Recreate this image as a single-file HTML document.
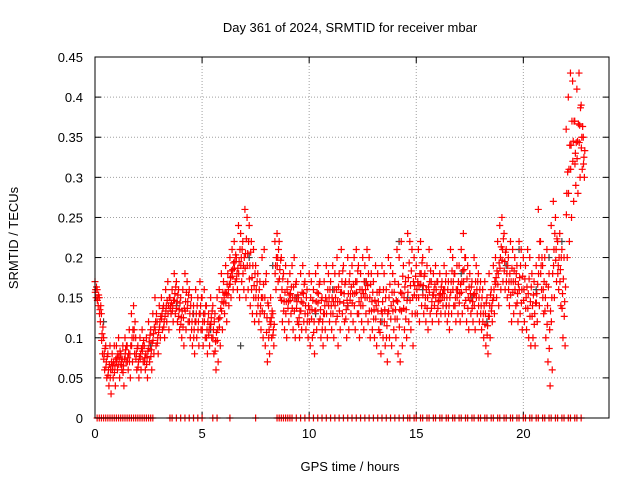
<!DOCTYPE html>
<html><head><meta charset="utf-8"><style>
body{margin:0;background:#fff}
svg{display:block;font-family:"Liberation Sans",sans-serif;font-size:13px}
</style></head><body>
<svg id="chart" width="640" height="480">
<text x="350" y="32" text-anchor="middle">Day 361 of 2024, SRMTID for receiver mbar</text>
<text x="350" y="471" text-anchor="middle">GPS time / hours</text>
<text transform="translate(18,238) rotate(-90)" text-anchor="middle">SRMTID / TECUs</text>
<g id="grid"></g>
<g id="ticks"></g>
<g id="marks"></g>
<rect x="95" y="57" width="514" height="361" fill="none" stroke="#000"/>
</svg>
<script>
const xTicks=[0,5,10,15,20];
const yTicks=[0,0.05,0.1,0.15,0.2,0.25,0.3,0.35,0.4,0.45];
const yTickLabels=["0","0.05","0.1","0.15","0.2","0.25","0.3","0.35","0.4","0.45"];
const hiVals=[.17,.16,.15,.13,.10,.09,.08,.09,.08,.09,
.09,.10,.08,.09,.10,.09,.11,.13,.14,.10,
.09,.10,.11,.09,.10,.12,.11,.13,.15,.12,
.14,.15,.14,.16,.17,.15,.16,.18,.17,.16,
.15,.16,.18,.17,.16,.15,.14,.16,.15,.17,
.15,.16,.14,.13,.15,.14,.13,.15,.16,.18,
.17,.19,.18,.20,.21,.22,.20,.24,.23,.22,
.26,.25,.24,.22,.21,.19,.18,.17,.20,.21,
.18,.14,.15,.13,.22,.23,.22,.20,.18,.19,
.17,.18,.19,.20,.17,.15,.18,.19,.17,.16,
.18,.17,.16,.18,.19,.17,.15,.17,.19,.18,
.17,.19,.18,.20,.18,.21,.19,.17,.20,.18,
.19,.20,.21,.19,.18,.20,.19,.21,.20,.18,
.17,.19,.18,.16,.19,.18,.16,.20,.19,.18,
.17,.21,.20,.22,.19,.17,.23,.22,.21,.20,
.19,.21,.22,.20,.18,.19,.21,.17,.18,.19,
.17,.18,.17,.19,.18,.17,.21,.20,.18,.19,
.19,.21,.23,.20,.19,.18,.17,.20,.19,.18,
.17,.16,.17,.15,.18,.16,.19,.20,.22,.24,
.25,.23,.21,.20,.22,.21,.20,.19,.22,.21,
.20,.19,.21,.20,.18,.17,.19,.26,.22,.19,
.20,.21,.18,.24,.27,.25,.22,.23,.21,.20,
.36,.40,.43,.42,.37,.41,.43,.39,.35];
const loVals=[.15,.14,.12,.08,.06,.05,.04,.03,.05,.04,
.06,.05,.06,.04,.07,.06,.05,.07,.08,.06,
.05,.06,.07,.06,.05,.07,.06,.08,.09,.08,
.10,.11,.10,.12,.11,.13,.12,.13,.12,.11,
.10,.09,.11,.12,.10,.09,.08,.10,.09,.11,
.09,.10,.08,.09,.10,.08,.06,.07,.09,.11,
.13,.12,.14,.15,.16,.17,.16,.15,.17,.16,
.15,.16,.14,.13,.12,.13,.12,.11,.10,.09,
.07,.08,.10,.09,.16,.17,.15,.12,.11,.10,
.12,.13,.11,.10,.12,.10,.11,.12,.11,.10,
.09,.10,.08,.11,.12,.10,.09,.11,.10,.12,
.11,.10,.12,.09,.11,.13,.12,.10,.11,.13,
.12,.11,.13,.10,.12,.11,.13,.12,.10,.11,
.10,.09,.11,.08,.10,.09,.07,.10,.09,.11,
.10,.08,.07,.09,.11,.10,.12,.11,.09,.13,
.13,.12,.14,.13,.12,.11,.13,.12,.14,.13,
.12,.13,.14,.13,.12,.11,.13,.14,.12,.13,
.12,.13,.14,.12,.11,.13,.12,.11,.13,.12,
.11,.10,.09,.08,.10,.12,.13,.15,.14,.16,
.17,.16,.15,.14,.12,.13,.14,.12,.13,.11,
.12,.11,.10,.09,.10,.09,.12,.14,.16,.13,
.10,.07,.04,.06,.15,.17,.16,.14,.10,.09,
.20,.22,.25,.27,.29,.28,.30,.31,.30];
const grayTimes=[0.4,1.2,2.6,3.8,4.6,5.4,6.8,7.2,8.3,9.4,10.3,11.1,11.8,12.6,13.4,14.2,14.6,15.3,16.4,17.1,17.6,18.3,19.2,19.8,20.6,21.2,21.8];
const grayVals=[0.12,0.08,0.09,0.14,0.13,0.11,0.09,0.2,0.19,0.15,0.13,0.16,0.14,0.17,0.12,0.22,0.15,0.16,0.14,0.18,0.15,0.12,0.19,0.21,0.16,0.2,0.22];
const zeroTimes=[0.1,0.2,0.3,0.4,0.5,0.6,0.7,0.8,0.9,1.0,1.1,1.2,1.3,1.4,1.5,1.6,1.7,1.8,1.9,2.0,2.1,2.2,2.3,2.4,2.5,2.6,2.7,3.5,3.6,3.8,4.0,4.2,4.4,4.6,4.8,5.0,5.5,5.7,6.3,7.5,8.5,8.6,8.7,8.8,8.9,9.0,9.1,9.2,9.4,9.6,9.8,10.0,10.2,10.4,10.6,10.8,11.0,11.2,11.4,11.6,11.8,12.0,12.2,12.4,12.6,12.8,13.0,13.2,13.4,13.6,13.8,14.0,14.2,14.4,14.6,14.7,14.9,15.0,15.2,15.3,15.5,15.6,15.8,15.9,16.1,16.2,16.4,16.5,16.7,16.8,17.0,17.1,17.3,17.4,17.6,17.7,17.9,18.0,18.2,18.3,18.5,18.6,18.8,18.9,19.1,19.2,19.4,19.5,19.7,19.8,20.0,20.1,20.3,20.4,20.6,20.7,20.9,21.0,21.2,21.3,21.5,21.6,21.8,21.9,22.1,22.2,22.4,22.5,22.7];
const NS="http://www.w3.org/2000/svg";
const X0=95,X1=609,Y0=418,Y1=57,XMAX=24,YMAX=0.45;
function xs(t){return X0+(X1-X0)*t/XMAX;}
function ys(v){return Y0-(Y0-Y1)*v/YMAX;}
function mk(tag,attrs,parent){const e=document.createElementNS(NS,tag);for(const k in attrs)e.setAttribute(k,attrs[k]);parent.appendChild(e);return e;}
const grid=document.getElementById('grid'),ticks=document.getElementById('ticks'),marks=document.getElementById('marks');
xTicks.forEach(t=>{const x=xs(t);
 if(t>0){const l=mk('line',{x1:x,x2:x,y1:Y1,y2:Y0,stroke:'#a0a0a0','stroke-dasharray':'1,2'},grid);
 
 }
 mk('line',{x1:x,x2:x,y1:Y0,y2:Y0-6,stroke:'#000'},ticks);
 mk('line',{x1:x,x2:x,y1:Y1,y2:Y1+6,stroke:'#000'},ticks);
 const tx=mk('text',{x:x,y:Y0+20,'text-anchor':'middle'},ticks);tx.textContent=t;
 
 });
yTicks.forEach((v,i)=>{const y=ys(v);
 if(v>0&&v<0.45){const l=mk('line',{x1:X0,x2:X1,y1:y,y2:y,stroke:'#a0a0a0','stroke-dasharray':'1,2'},grid);
 
 }
 mk('line',{x1:X0,x2:X0+6,y1:y,y2:y,stroke:'#000'},ticks);
 mk('line',{x1:X1,x2:X1-6,y1:y,y2:y,stroke:'#000'},ticks);
 const tx=mk('text',{x:83,y:y+5,'text-anchor':'end'},ticks);tx.textContent=yTickLabels[i];
 
 });
function plus(t,v,color,name){const x=xs(t),y=ys(v);
 const p=mk('path',{d:`M${x-3.5},${y}h7M${x},${y-3.5}v7`,stroke:color,'stroke-width':1.2,fill:'none'},marks);
 
 }
grayTimes.forEach((t,i)=>plus(t,grayVals[i],'#404040','gray-point'));
hiVals.forEach((v,i)=>{const t=i*0.1;plus(t,v,'#ff0000','red-point-high');plus(t+0.05,loVals[i],'#ff0000','red-point-low');
 plus(t+0.03,(v+loVals[i])/2,'#ff0000','red-point-mid');
 plus(t+0.07,(2*v+loVals[i])/3,'#ff0000','red-point-upper');
 plus(t+0.01,(v+2*loVals[i])/3,'#ff0000','red-point-lower');});
zeroTimes.forEach(t=>plus(t,0,'#ff0000','zero-point'));
</script>
</body></html>
